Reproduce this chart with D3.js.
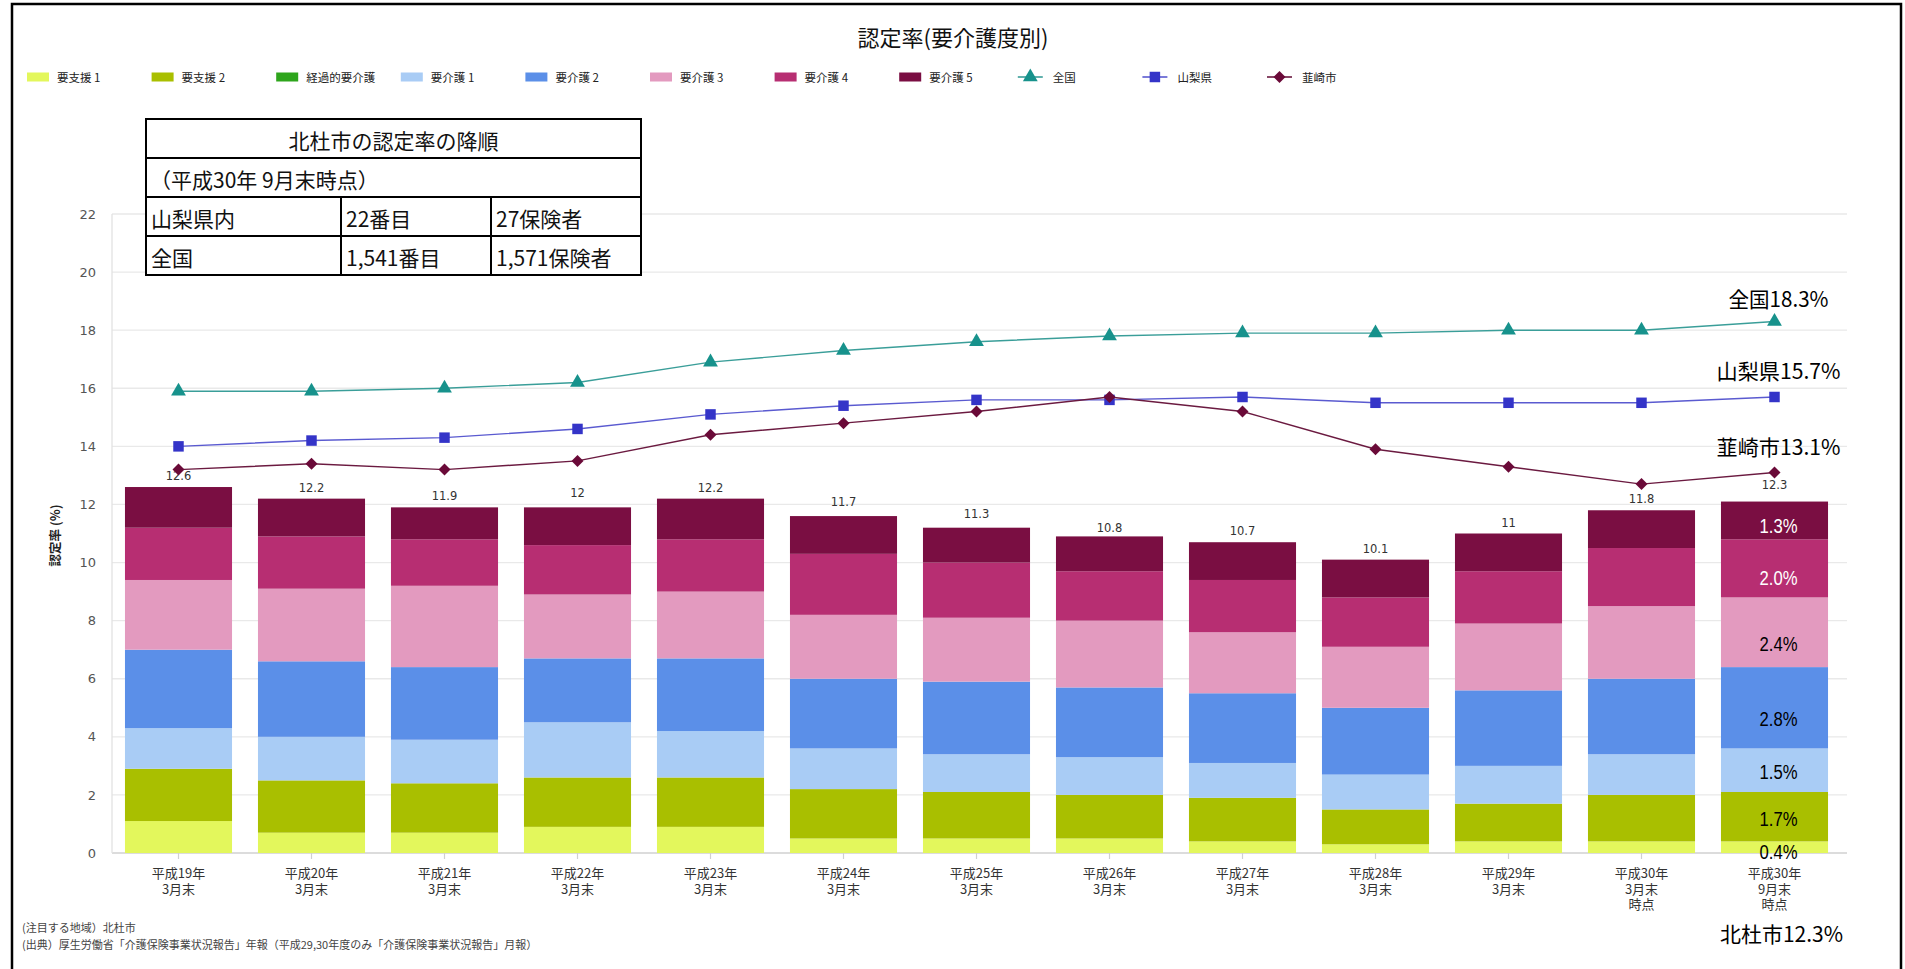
<!DOCTYPE html>
<html>
<head>
<meta charset="utf-8">
<script src="https://cdn.jsdelivr.net/npm/d3@7"></script>
<style>
  html, body { margin: 0; padding: 0; background: #fff; }
  svg { display: block; }
</style>
</head>
<body>
<svg id="chart" width="1905" height="969"></svg>
<script>
// ---------------- data ----------------
const categories = [
  "平成19年\n3月末", "平成20年\n3月末", "平成21年\n3月末", "平成22年\n3月末",
  "平成23年\n3月末", "平成24年\n3月末", "平成25年\n3月末", "平成26年\n3月末",
  "平成27年\n3月末", "平成28年\n3月末", "平成29年\n3月末", "平成30年\n3月末\n時点",
  "平成30年\n9月末\n時点"
];
const seriesNames = ["要支援 1", "要支援 2", "経過的要介護", "要介護 1", "要介護 2", "要介護 3", "要介護 4", "要介護 5"];
const yoshien1 = [1.1, 0.7, 0.7, 0.9, 0.9, 0.5, 0.5, 0.5, 0.4, 0.3, 0.4, 0.4, 0.4];
const yoshien2 = [1.8, 1.8, 1.7, 1.7, 1.7, 1.7, 1.6, 1.5, 1.5, 1.2, 1.3, 1.6, 1.7];
const keika    = [0, 0, 0, 0, 0, 0, 0, 0, 0, 0, 0, 0, 0];
const kaigo1   = [1.4, 1.5, 1.5, 1.9, 1.6, 1.4, 1.3, 1.3, 1.2, 1.2, 1.3, 1.4, 1.5];
const kaigo2   = [2.7, 2.6, 2.5, 2.2, 2.5, 2.4, 2.5, 2.4, 2.4, 2.3, 2.6, 2.6, 2.8];
const kaigo3   = [2.4, 2.5, 2.8, 2.2, 2.3, 2.2, 2.2, 2.3, 2.1, 2.1, 2.3, 2.5, 2.4];
const kaigo4   = [1.8, 1.8, 1.6, 1.7, 1.8, 2.1, 1.9, 1.7, 1.8, 1.7, 1.8, 2.0, 2.0];
const kaigo5   = [1.4, 1.3, 1.1, 1.3, 1.4, 1.3, 1.2, 1.2, 1.3, 1.3, 1.3, 1.3, 1.3];
const totals   = [12.6, 12.2, 11.9, 12, 12.2, 11.7, 11.3, 10.8, 10.7, 10.1, 11, 11.8, 12.3];

const zenkoku   = [15.9, 15.9, 16.0, 16.2, 16.9, 17.3, 17.6, 17.8, 17.9, 17.9, 18.0, 18.0, 18.3];
const yamanashi = [14.0, 14.2, 14.3, 14.6, 15.1, 15.4, 15.6, 15.6, 15.7, 15.5, 15.5, 15.5, 15.7];
const nirasaki  = [13.2, 13.4, 13.2, 13.5, 14.4, 14.8, 15.2, 15.7, 15.2, 13.9, 13.3, 12.7, 13.1];
const lineNames = ["全国", "山梨県", "韮崎市"];

const yTicks = [0, 2, 4, 6, 8, 10, 12, 14, 16, 18, 20, 22];

// annotations on the last bar (text, anchor value)
const lastBarNotes = ["1.3%", "2.0%", "2.4%", "2.8%", "1.5%", "1.7%", "0.4%"];
const lastBarNoteValues = [11.25, 9.48, 7.2, 4.63, 2.78, 1.18, 0.02];
const lineEndNotes = ["全国18.3%", "山梨県15.7%", "韮崎市13.1%"];
const hokutoNote = "北杜市12.3%";

const tableRows = [
  ["北杜市の認定率の降順"],
  ["（平成30年 9月末時点）"],
  ["山梨県内", "22番目", "27保険者"],
  ["全国", "1,541番目", "1,571保険者"]
];

// ---------------- styles ----------------
const barColors = ["#e3f75c", "#a9bf00", "#2ea51c", "#a9ccf5", "#5b8fe8", "#e39abf", "#b72e72", "#7a0e42"];
const lineColors = ["#3a9e99", "#5a5ad0", "#6b1a40"];
const markerColors = ["#17928c", "#3434c8", "#6a0a38"];
const cjk = "'Noto Sans CJK JP', 'Noto Sans', sans-serif";
const latin = "'DejaVu Sans', 'Noto Sans CJK JP', sans-serif";

const svg = d3.select("#chart");
svg.append("rect").attr("width", 1905).attr("height", 969).attr("fill", "#fff");

// frame
svg.append("rect").attr("x", 12).attr("y", 4).attr("width", 1889).attr("height", 990)
  .attr("fill", "none").attr("stroke", "#000").attr("stroke-width", 2.5);

// ---------------- scales ----------------
const plotLeft = 112, plotRight = 1841, plotTop = 214, plotBottom = 853;
const x = d3.scaleBand().domain(d3.range(categories.length)).range([plotLeft, plotRight]).paddingInner(0.195).paddingOuter(0.0975);
const y = d3.scaleLinear().domain([0, 22]).range([plotBottom, plotTop]);

// gridlines
svg.append("g").selectAll("line").data(yTicks).join("line")
  .attr("x1", plotLeft).attr("x2", plotRight + 6)
  .attr("y1", d => y(d)).attr("y2", d => y(d))
  .attr("stroke", d => d === 0 ? "#d0d0d0" : "#e9e9e9").attr("stroke-width", 1.3);

// y axis line
svg.append("line").attr("x1", plotLeft).attr("x2", plotLeft).attr("y1", y(22)).attr("y2", y(0))
  .attr("stroke", "#e2e2e2").attr("stroke-width", 1.3);

// y axis
const yAxis = d3.axisLeft(y).tickValues(yTicks).tickSize(0).tickPadding(16);
const gy = svg.append("g").attr("transform", `translate(${plotLeft},0)`).call(yAxis);
gy.select(".domain").remove();
gy.selectAll("text").attr("font-family", latin).attr("font-size", 13).attr("fill", "#555");

// y title
svg.append("text").attr("transform", `translate(60,${(y(0) + y(22)) / 2 + 2}) rotate(-90)`)
  .attr("text-anchor", "middle").attr("font-family", cjk).attr("font-size", 12.5).attr("font-weight", 700)
  .attr("fill", "#222").text("認定率 (%)");

// ---------------- stacked bars ----------------
const rows = categories.map((c, i) => ({
  i, s0: yoshien1[i], s1: yoshien2[i], s2: keika[i], s3: kaigo1[i], s4: kaigo2[i], s5: kaigo3[i], s6: kaigo4[i], s7: kaigo5[i]
}));
const keys = ["s0", "s1", "s2", "s3", "s4", "s5", "s6", "s7"];
const stacked = d3.stack().keys(keys)(rows);
svg.append("g").selectAll("g").data(stacked).join("g")
  .attr("fill", (d, k) => barColors[k])
  .selectAll("rect").data(d => d).join("rect")
  .attr("x", d => x(d.data.i))
  .attr("width", x.bandwidth())
  .attr("y", d => y(d[1]))
  .attr("height", d => Math.max(0, y(d[0]) - y(d[1])));

// total labels
svg.append("g").selectAll("text").data(totals).join("text")
  .attr("x", (d, i) => x(i) + x.bandwidth() / 2)
  .attr("y", d => y(d) - 7)
  .attr("text-anchor", "middle").attr("font-family", latin).attr("font-size", 11.5).attr("fill", "#333")
  .text(d => d);

// x axis ticks
svg.append("g").selectAll("line").data(categories).join("line")
  .attr("x1", (d, i) => x(i) + x.bandwidth() / 2).attr("x2", (d, i) => x(i) + x.bandwidth() / 2)
  .attr("y1", plotBottom).attr("y2", plotBottom + 6).attr("stroke", "#d0d0d0").attr("stroke-width", 1.2);

// x labels
const xl = svg.append("g").selectAll("text").data(categories).join("text")
  .attr("x", (d, i) => x(i) + x.bandwidth() / 2)
  .attr("y", plotBottom + 25)
  .attr("text-anchor", "middle").attr("font-family", cjk).attr("font-size", 13).attr("fill", "#333");
xl.each(function(d, i) {
  const t = d3.select(this);
  d.split("\n").forEach((ln, k) => {
    t.append("tspan").attr("x", x(i) + x.bandwidth() / 2).attr("dy", k === 0 ? 0 : 15.5).text(ln);
  });
});

// ---------------- lines ----------------
const lineSeries = [zenkoku, yamanashi, nirasaki];
const lineGen = d3.line().x((d, i) => x(i) + x.bandwidth() / 2).y(d => y(d));
const symbols = [d3.symbolTriangle, d3.symbolSquare, d3.symbolSquare];
const symSizes = [95, 110, 72];
const symRot = [0, 0, 45];
lineSeries.forEach((vals, k) => {
  svg.append("path").datum(vals).attr("d", lineGen).attr("fill", "none")
    .attr("stroke", lineColors[k]).attr("stroke-width", 1.4);
  svg.append("g").selectAll("path").data(vals).join("path")
    .attr("transform", (d, i) => `translate(${x(i) + x.bandwidth() / 2},${y(d)}) rotate(${symRot[k]})`)
    .attr("d", d3.symbol().type(symbols[k]).size(symSizes[k]))
    .attr("fill", markerColors[k]);
});

// ---------------- annotations ----------------
const lastIdx = categories.length - 1;
const lastCx = x(lastIdx) + x.bandwidth() / 2 + 4;
svg.append("g").selectAll("text").data(lastBarNotes).join("text")
  .attr("x", lastCx).attr("y", (d, k) => y(lastBarNoteValues[k]))
  .attr("dominant-baseline", "central").attr("text-anchor", "middle")
  .attr("font-family", "'Liberation Sans Narrow', 'Liberation Sans', sans-serif").attr("font-size", 20)
  .attr("textLength", 38).attr("lengthAdjust", "spacingAndGlyphs")
  .attr("fill", (d, k) => k < 2 ? "#fff" : "#000")
  .text(d => d);

const lineEndWidths = [100, 124, 124];
svg.append("g").selectAll("text").data(lineEndNotes).join("text")
  .attr("x", lastCx).attr("y", (d, k) => y(lineSeries[k][lastIdx]) - 27 + (k === 0 ? 4 : 0))
  .attr("dominant-baseline", "central").attr("text-anchor", "middle")
  .attr("font-family", cjk).attr("font-size", 21)
  .attr("textLength", (d, k) => lineEndWidths[k]).attr("lengthAdjust", "spacingAndGlyphs")
  .attr("fill", "#000").text(d => d);

svg.append("text").attr("x", lastCx + 3).attr("y", y(0) + 80)
  .attr("dominant-baseline", "central").attr("text-anchor", "middle")
  .attr("font-family", cjk).attr("font-size", 21)
  .attr("textLength", 123).attr("lengthAdjust", "spacingAndGlyphs")
  .attr("fill", "#000").text(hokutoNote);

// ---------------- title ----------------
svg.append("text").attr("x", 953).attr("y", 36).attr("dominant-baseline", "central").attr("text-anchor", "middle")
  .attr("font-family", cjk).attr("font-size", 22).attr("fill", "#111").text("認定率(要介護度別)");

// ---------------- legend ----------------
const legendItems = seriesNames.map((n, k) => ({ name: n, type: "bar", k }))
  .concat(lineNames.map((n, k) => ({ name: n, type: "line", k })));
const lg = svg.append("g").selectAll("g").data(legendItems).join("g")
  .attr("transform", (d, i) => `translate(${27 + i * 124.6},77)`);
lg.filter(d => d.type === "bar").append("rect")
  .attr("x", 0).attr("y", -4.5).attr("width", 22).attr("height", 9).attr("fill", d => barColors[d.k]);
lg.filter(d => d.type === "line").append("line")
  .attr("x1", -6).attr("x2", 19).attr("y1", 0).attr("y2", 0).attr("stroke", d => lineColors[d.k]).attr("stroke-width", 1.6);
lg.filter(d => d.type === "line").append("path")
  .attr("transform", d => `translate(6.5,0) rotate(${symRot[d.k]})`)
  .attr("d", d => d3.symbol().type(symbols[d.k]).size(symSizes[d.k])())
  .attr("fill", d => markerColors[d.k]);
lg.append("text").attr("x", d => d.type === "bar" ? 30 : 29).attr("y", 0).attr("dominant-baseline", "central")
  .attr("font-family", cjk).attr("font-size", 11.5).attr("fill", "#222").text(d => d.name);

// ---------------- table ----------------
const tX = [146, 341, 491, 641];
const tY0 = 119, rowH = 39;
const tg = svg.append("g");
tg.append("rect").attr("x", tX[0]).attr("y", tY0).attr("width", tX[3] - tX[0]).attr("height", rowH * 4)
  .attr("fill", "#fff").attr("stroke", "#000").attr("stroke-width", 2);
tableRows.forEach((r, ri) => {
  const yy = tY0 + ri * rowH;
  if (ri > 0) tg.append("line").attr("x1", tX[0]).attr("x2", tX[3]).attr("y1", yy).attr("y2", yy).attr("stroke", "#000").attr("stroke-width", 2);
  if (r.length === 1) {
    tg.append("text").attr("x", ri === 0 ? (tX[0] + tX[3]) / 2 : tX[0] + 4).attr("y", yy + rowH / 2 + 1)
      .attr("text-anchor", ri === 0 ? "middle" : "start").attr("dominant-baseline", "central")
      .attr("font-family", cjk).attr("font-size", 21).attr("fill", "#111").text(r[0]);
  } else {
    r.forEach((c, ci) => {
      if (ci > 0) tg.append("line").attr("x1", tX[ci]).attr("x2", tX[ci]).attr("y1", yy).attr("y2", yy + rowH).attr("stroke", "#000").attr("stroke-width", 2);
      tg.append("text").attr("x", tX[ci] + 5).attr("y", yy + rowH / 2 + 1).attr("dominant-baseline", "central")
        .attr("font-family", cjk).attr("font-size", 21).attr("fill", "#111").text(c);
    });
  }
});

// ---------------- footnotes ----------------
const notes = ["(注目する地域）北杜市", "(出典）厚生労働省「介護保険事業状況報告」年報（平成29,30年度のみ「介護保険事業状況報告」月報）"];
svg.append("g").selectAll("text").data(notes).join("text")
  .attr("x", 22).attr("y", (d, i) => 927 + i * 17).attr("dominant-baseline", "central")
  .attr("font-family", cjk).attr("font-size", 11).attr("fill", "#444").text(d => d);
</script>
</body>
</html>
